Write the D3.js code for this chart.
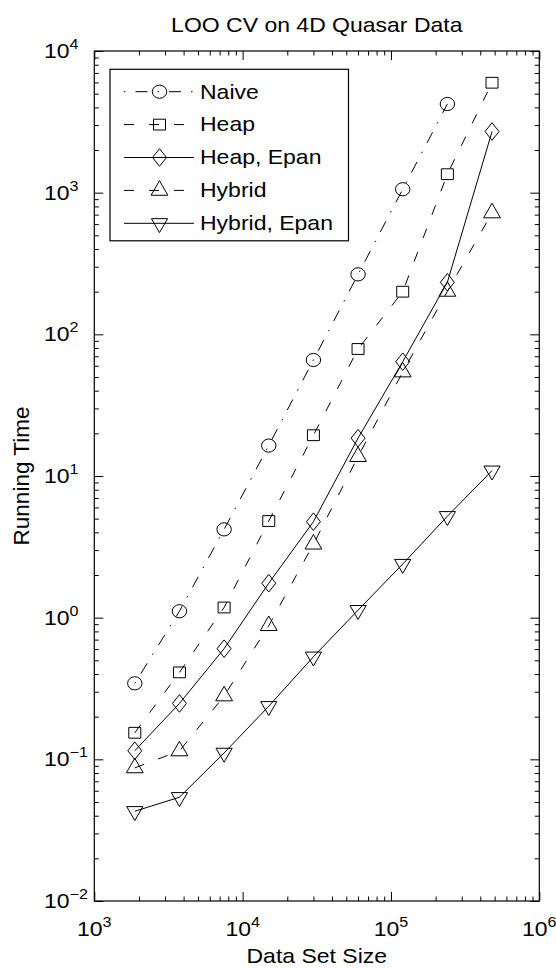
<!DOCTYPE html>
<html>
<head>
<meta charset="utf-8">
<script src="https://cdn.jsdelivr.net/npm/d3@7"></script>
<style>
  html, body { margin: 0; padding: 0; background: #fff; }
  svg { display: block; }
  text { font-family: "Liberation Sans", Arial, Helvetica, sans-serif; fill: #000; }
</style>
</head>
<body>
<svg id="chart" width="556" height="968"></svg>
<script>
// ---- data ----
const sizes = [1875, 3750, 7500, 15000, 30000, 60000, 120000, 240000, 480000];
const naive = [0.344, 1.11, 4.2, 16.4, 65.9, 265, 1057, 4226];
const heap = [0.154, 0.411, 1.18, 4.81, 19.4, 78.8, 200, 1350, 5970];
const heapEpan = [0.115, 0.248, 0.604, 1.75, 4.76, 18.5, 64.1, 233, 2700];
const hybrid = [0.087, 0.1146, 0.28, 0.878, 3.30, 13.7, 54.2, 201, 719];
const hybridEpan = [0.043, 0.054, 0.111, 0.237, 0.53, 1.13, 2.39, 5.2, 10.9];
const seriesNames = ["Naive", "Heap", "Heap, Epan", "Hybrid", "Hybrid, Epan"];
const xTickExps = ["3", "4", "5", "6"];
const yTickExps = ["\u22122", "\u22121", "0", "1", "2", "3", "4"];
const titleText = "LOO CV on 4D Quasar Data";
const xLabelText = "Data Set Size";
const yLabelText = "Running Time";

// ---- layout ----
const L = 94.3, R = 539.3, T = 51, B = 901;
const SX = 1.15; // horizontal text stretch of the reference
const svg = d3.select("#chart");

const x = d3.scaleLog().domain([1e3, 1e6]).range([L, R]);
const y = d3.scaleLog().domain([1e-2, 1e4]).range([B, T]);

const isMajor = v => Math.abs(Math.log10(v) - Math.round(Math.log10(v))) < 1e-9;
const xt = x.ticks();
const yt = y.ticks();
const xMaj = xt.filter(isMajor), xMin = xt.filter(v => !isMajor(v));
const yMaj = yt.filter(isMajor), yMin = yt.filter(v => !isMajor(v));

function drawAxis(gen, tr, vals, size) {
  const g = svg.append("g").attr("transform", tr)
    .call(gen.tickValues(vals).tickSize(size).tickSizeOuter(0).tickFormat(""));
  g.select(".domain").remove();
  g.selectAll(".tick line").attr("stroke", "#000").attr("stroke-width", 1);
}
drawAxis(d3.axisBottom(x), `translate(0,${B})`, xMaj, -9);
drawAxis(d3.axisBottom(x), `translate(0,${B})`, xMin, -4.5);
drawAxis(d3.axisTop(x), `translate(0,${T})`, xMaj, -9);
drawAxis(d3.axisTop(x), `translate(0,${T})`, xMin, -4.5);
drawAxis(d3.axisLeft(y), `translate(${L},0)`, yMaj, -9);
drawAxis(d3.axisLeft(y), `translate(${L},0)`, yMin, -4.5);
drawAxis(d3.axisRight(y), `translate(${R},0)`, yMaj, -9);
drawAxis(d3.axisRight(y), `translate(${R},0)`, yMin, -4.5);

svg.append("rect").attr("x", L).attr("y", T).attr("width", R - L).attr("height", B - T)
  .attr("fill", "none").attr("stroke", "#000").attr("stroke-width", 1.2);

// tick labels
xMaj.forEach((v, i) => {
  const t = svg.append("text")
    .attr("transform", `translate(${x(v)},936) scale(${SX},1)`)
    .attr("text-anchor", "middle");
  t.append("tspan").attr("font-size", 20).text("10");
  t.append("tspan").attr("font-size", 14).attr("dy", -9).text(xTickExps[i]);
});
yMaj.forEach((v, i) => {
  const t = svg.append("text")
    .attr("transform", `translate(44,${y(v) + 7}) scale(${SX},1)`)
    .attr("text-anchor", "start");
  t.append("tspan").attr("font-size", 20).text("10");
  t.append("tspan").attr("font-size", 14).attr("dy", -9).text(yTickExps[i]);
});

// title and axis labels
svg.append("text").attr("transform", `translate(${(L + R) / 2},31.7) scale(${SX},1)`)
  .attr("text-anchor", "middle").attr("font-size", 20).text(titleText);
svg.append("text").attr("transform", `translate(${(L + R) / 2},963) scale(${SX},1)`)
  .attr("text-anchor", "middle").attr("font-size", 20).text(xLabelText);
svg.append("text").attr("transform", `translate(29.3,${(T + B) / 2}) rotate(-90)`)
  .attr("text-anchor", "middle").attr("font-size", 22.5).text(yLabelText);

// ---- markers ----
const markerPaths = {
  circle: () => { const rx = 7.2, ry = 6.6;
    return `M${-rx},0A${rx},${ry} 0 1,0 ${rx},0A${rx},${ry} 0 1,0 ${-rx},0Z`; },
  square: () => "M-6,-5.4H6V5.4H-6Z",
  diamond: () => "M0,-8.8L7,0L0,8.8L-7,0Z",
  up: () => "M0,-9.7L8.4,4.85L-8.4,4.85Z",
  down: () => "M0,9.3L8.1,-4.65L-8.1,-4.65Z"
};

const series = [
  { name: seriesNames[0], vals: naive, dash: "1.5,10,12,10", marker: "circle" },
  { name: seriesNames[1], vals: heap, dash: "10,15", marker: "square" },
  { name: seriesNames[2], vals: heapEpan, dash: null, marker: "diamond" },
  { name: seriesNames[3], vals: hybrid, dash: "10,15", marker: "up" },
  { name: seriesNames[4], vals: hybridEpan, dash: null, marker: "down" }
];

const line = d3.line().x(d => x(d[0])).y(d => y(d[1]));

series.forEach(s => {
  const pts = s.vals.map((v, i) => [sizes[i], v]);
  svg.append("path").attr("d", line(pts)).attr("fill", "none")
    .attr("stroke", "#000").attr("stroke-width", 1)
    .attr("stroke-dasharray", s.dash);
  svg.append("g").selectAll("path").data(pts).join("path")
    .attr("d", markerPaths[s.marker]())
    .attr("transform", d => `translate(${x(d[0])},${y(d[1])})`)
    .attr("fill", "none").attr("stroke", "#000").attr("stroke-width", 1);
});

// ---- legend ----
const lg = svg.append("g");
lg.append("rect").attr("x", 110).attr("y", 69.3).attr("width", 238.5).attr("height", 171.5)
  .attr("fill", "#fff").attr("stroke", "#000").attr("stroke-width", 1.2);
series.forEach((s, i) => {
  const cy = 91.7 + i * 32.9;
  lg.append("line").attr("x1", 124).attr("x2", 194).attr("y1", cy).attr("y2", cy)
    .attr("stroke", "#000").attr("stroke-width", 1).attr("stroke-dasharray", s.dash);
  lg.append("path").attr("d", markerPaths[s.marker]())
    .attr("transform", `translate(159.5,${cy})`)
    .attr("fill", "none").attr("stroke", "#000").attr("stroke-width", 1);
  lg.append("text").attr("transform", `translate(200,${cy + 6.8}) scale(${SX},1)`)
    .attr("font-size", 20).text(s.name);
});
</script>
</body>
</html>
